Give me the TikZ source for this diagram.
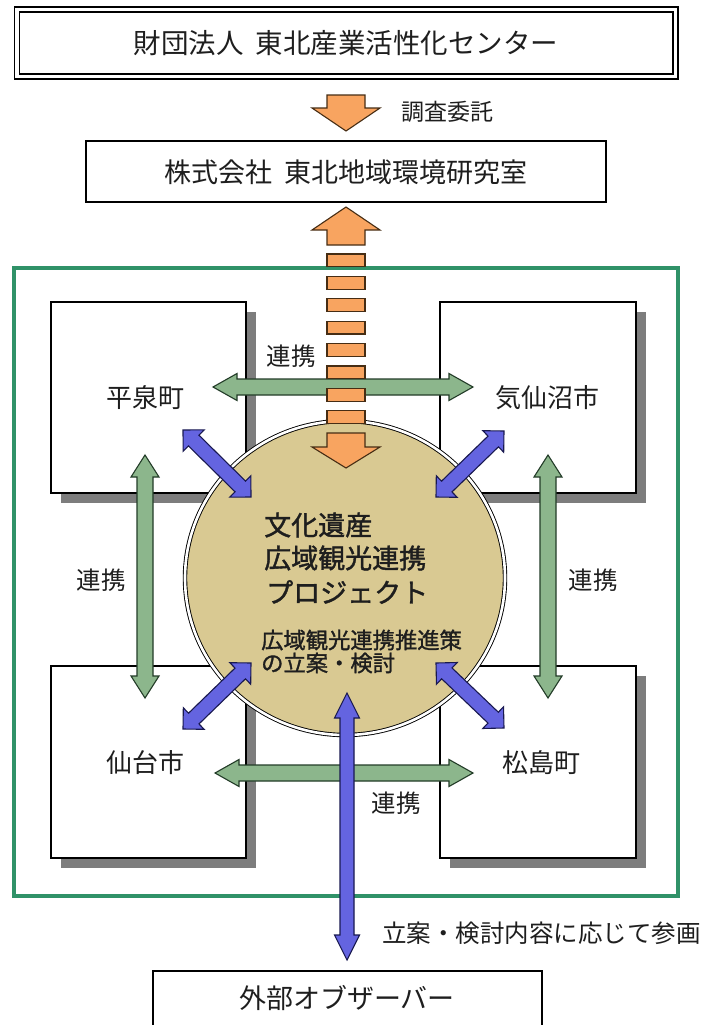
\documentclass[tikz,border=0pt]{standalone}
\usepackage{fontspec}
\newfontfamily\jp{Noto Sans CJK JP}
\newfontfamily\jpb[FakeBold=1.4]{Noto Sans CJK JP}
\usetikzlibrary{calc,shapes.geometric}
\definecolor{orangeF}{RGB}{248,164,96}
\definecolor{orangeD}{RGB}{70,45,20}
\definecolor{greenF}{RGB}{140,182,140}
\definecolor{greenD}{RGB}{35,60,40}
\definecolor{blueF}{RGB}{100,100,224}
\definecolor{blueD}{RGB}{25,25,80}
\definecolor{tanF}{RGB}{217,201,146}
\definecolor{frameG}{RGB}{48,146,104}
\definecolor{shadowG}{RGB}{125,125,125}
\definecolor{txt}{RGB}{30,30,30}
\newcommand\jpsize[1]{\fontsize{#1}{#1}\selectfont}
% double-headed block arrow: style, end A, end B, shaft half, head half, head length
\newcommand\blockdbl[6]{%
  \coordinate (bp1) at ($(#2)!#6!(#3)$);
  \coordinate (bp2) at ($(#3)!#6!(#2)$);
  \draw[#1] (#2) -- ($(bp1)!#5!90:(#3)$) -- ($(bp1)!#4!90:(#3)$)
    -- ($(bp2)!#4!-90:(#2)$) -- ($(bp2)!#5!-90:(#2)$) -- (#3)
    -- ($(bp2)!#5!90:(#2)$) -- ($(bp2)!#4!90:(#2)$)
    -- ($(bp1)!#4!-90:(#3)$) -- ($(bp1)!#5!-90:(#3)$) -- cycle;}
% single block arrow: style, tail, tip, shaft half, head half, head length
\newcommand\blocksgl[6]{%
  \coordinate (bq) at ($(#3)!#6!(#2)$);
  \draw[#1] ($(#2)!#4!90:(#3)$) -- ($(bq)!#4!-90:(#2)$) -- ($(bq)!#5!-90:(#2)$)
    -- (#3) -- ($(bq)!#5!90:(#2)$) -- ($(bq)!#4!90:(#2)$)
    -- ($(#2)!#4!-90:(#3)$) -- cycle;}
\begin{document}
\begin{tikzpicture}[x=1pt,y=-1pt,
  lbl/.style={inner sep=0pt, text=txt, font=\jp\jpsize{#1}},
  lbl/.default=26,
  plainbox/.style={draw=black, line width=1.6pt, fill=white, inner sep=0pt},
  townbox/.style={draw=black, line width=1.4pt, fill=white, inner sep=0pt,
    minimum width=195pt, minimum height=191pt},
  shadowbox/.style={fill=shadowG, draw=none},
  orangeA/.style={fill=orangeF, draw=orangeD, line width=1.1pt, line join=miter},
  greenA/.style={fill=greenF, draw=greenD, line width=1.1pt, line join=miter},
  blueA/.style={fill=blueF, draw=blueD, line width=1.1pt, line join=miter}]
\useasboundingbox[fill=white] (0,0) rectangle (710,1025);

% top boxes
\node[draw=black, line width=1.3pt, double=white, double distance=3.6pt,
  minimum width=658.5pt, minimum height=67pt, inner sep=0pt] (zaidan) at (346.25,43) {};
\node[lbl=27.5] (zaidanT) at (346,43) {財団法人\hspace{0.45em}東北産業活性化センター};
\node[plainbox, minimum width=520pt, minimum height=61pt] (kenkyu) at (346,171.5) {};
\node[lbl=27] (kenkyuT) at (346,172) {株式会社\hspace{0.45em}東北地域環境研究室};

% commission arrow
\coordinate (c1) at (346,95);
\coordinate (c2) at (346,131);
\blocksgl{orangeA}{c1}{c2}{19pt}{34pt}{23pt}
\node[lbl=23, anchor=west] (chousa) at (401,112) {調査委託};

% green frame
\draw[frameG, line width=4.8pt] (14,268) rectangle (678,896);

% town boxes with shadows
\fill[shadowbox] (61,312) rectangle (256,503);
\fill[shadowbox] (450,312) rectangle (646,503);
\fill[shadowbox] (61,676) rectangle (256,868);
\fill[shadowbox] (450,676) rectangle (646,868);
\node[townbox] (hira) at (148.5,397.5) {};
\node[townbox, minimum width=196pt] (kese) at (538,397.5) {};
\node[townbox, minimum height=192pt] (sendai) at (148.5,762) {};
\node[townbox, minimum width=196pt, minimum height=192pt] (matsu) at (538,762) {};

% green cooperation arrows
\coordinate (gh1a) at (213,387); \coordinate (gh1b) at (473,387);
\coordinate (gh2a) at (215,773); \coordinate (gh2b) at (473,773);
\coordinate (gv1a) at (145,455); \coordinate (gv1b) at (145,698);
\coordinate (gv2a) at (548,455); \coordinate (gv2b) at (548,698);
\blockdbl{greenA}{gh1a}{gh1b}{8pt}{13.5pt}{24pt}
\blockdbl{greenA}{gh2a}{gh2b}{8pt}{13.5pt}{24pt}
\blockdbl{greenA}{gv1a}{gv1b}{8pt}{14pt}{22pt}
\blockdbl{greenA}{gv2a}{gv2b}{8pt}{14pt}{22pt}

% central circle
\node[ellipse, draw=black, line width=0.9pt, double=white, double distance=2.6pt,
  fill=tanF, minimum width=320pt, minimum height=314pt, inner sep=0pt] (proj) at (345,578) {};

% orange dashed double arrow
\coordinate (o1) at (346,245); \coordinate (o2) at (346,207);
\blocksgl{orangeA}{o1}{o2}{19pt}{34pt}{23pt}
\foreach \yy in {254,276.4,298.8,321.2,343.6,366,388.4,410.8}
  \draw[orangeA] (327,\yy) rectangle (365,\yy+12.8);
\coordinate (o3) at (346,433); \coordinate (o4) at (346,468);
\blocksgl{orangeA}{o3}{o4}{19pt}{34pt}{21pt}

% blue arrows
\coordinate (b1a) at (183,430); \coordinate (b1b) at (251,497);
\coordinate (b2a) at (504,431); \coordinate (b2b) at (436,497);
\coordinate (b3a) at (183,729); \coordinate (b3b) at (251,663);
\coordinate (b4a) at (504,728); \coordinate (b4b) at (436,663);
\coordinate (bva) at (347,693); \coordinate (bvb) at (347,960);
\blockdbl{blueA}{b1a}{b1b}{7.5pt}{15pt}{15pt}
\blockdbl{blueA}{b2a}{b2b}{7.5pt}{15pt}{15pt}
\blockdbl{blueA}{b3a}{b3b}{7.5pt}{15pt}{15pt}
\blockdbl{blueA}{b4a}{b4b}{7.5pt}{15pt}{15pt}
\blockdbl{blueA}{bva}{bvb}{7pt}{12.5pt}{25pt}

% bottom box
\node[plainbox, minimum width=389pt, minimum height=60pt] (observer) at (347.5,1001) {};
\node[lbl=27] (observerT) at (347,998) {外部オブザーバー};

% labels
\node[lbl=26] (hiraT) at (145,398) {平泉町};
\node[lbl=26] (keseT) at (547,398) {気仙沼市};
\node[lbl=26] (sendaiT) at (145,763) {仙台市};
\node[lbl=26] (matsuT) at (541,763) {松島町};
\node[lbl=24.5] (ren1) at (291,356) {連携};
\node[lbl=24.5] (ren2) at (101,580) {連携};
\node[lbl=24.5] (ren3) at (593,580) {連携};
\node[lbl=24.5] (ren4) at (396,803) {連携};
\node[lbl=24.5, anchor=west] (sankaku) at (382,933) {立案・検討内容に応じて参画};

% circle texts
\node[inner sep=0pt, text=txt, font=\jpb\jpsize{27}, anchor=west] (p1) at (264,525) {文化遺産};
\node[inner sep=0pt, text=txt, font=\jpb\jpsize{27}, anchor=west] (p2) at (264,558) {広域観光連携};
\node[inner sep=0pt, text=txt, font=\jpb\jpsize{27}, anchor=west] (p3) at (266,592) {プロジェクト};
\node[inner sep=0pt, text=txt, font=\jpb\jpsize{22.3}, anchor=west] (p4) at (261,640) {広域観光連携推進策};
\node[inner sep=0pt, text=txt, font=\jpb\jpsize{22.3}, anchor=west] (p5) at (261,663) {の立案・検討};
\end{tikzpicture}
\end{document}
